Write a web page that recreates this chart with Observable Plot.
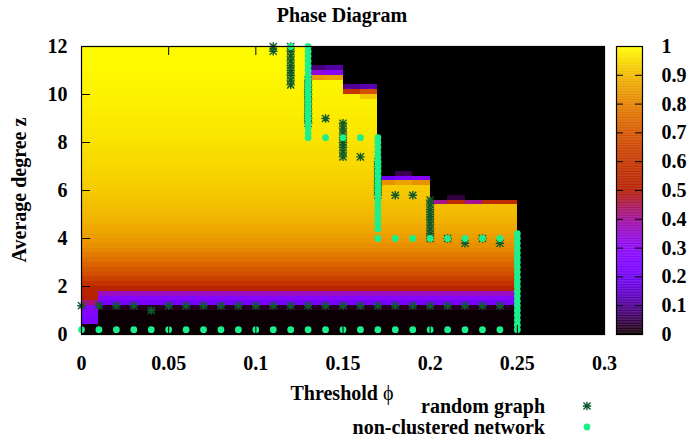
<!DOCTYPE html>
<html><head><meta charset="utf-8">
<script src="https://cdn.jsdelivr.net/npm/d3@7"></script>
<script src="https://cdn.jsdelivr.net/npm/@observablehq/plot@0.6"></script>
<style>
html,body{margin:0;padding:0;background:#fff;}
#chart{position:relative;width:690px;height:444px;overflow:hidden;}
#chart svg{position:absolute;top:0;}
</style></head><body><div id="chart"></div>
<script>
// ---- tick labels ----
const xTicks = [0, 0.05, 0.1, 0.15, 0.2, 0.25, 0.3];
const xTickLabels = ["0", "0.05", "0.1", "0.15", "0.2", "0.25", "0.3"];
const yTicks = [0, 2, 4, 6, 8, 10, 12];
const yTickLabels = ["0", "2", "4", "6", "8", "10", "12"];
const cbTicks = [0, 0.1, 0.2, 0.3, 0.4, 0.5, 0.6, 0.7, 0.8, 0.9, 1];
const cbTickLabels = ["0", "0.1", "0.2", "0.3", "0.4", "0.5", "0.6", "0.7", "0.8", "0.9", "1"];

// ---- heat map grid (cell lower edges) ----
const colStarts = [0, 0.01, 0.02, 0.03, 0.04, 0.05, 0.06, 0.07, 0.08, 0.09,
  0.10, 0.11, 0.12, 0.13, 0.14, 0.15, 0.16, 0.17, 0.18, 0.19,
  0.20, 0.21, 0.22, 0.23, 0.24, 0.25, 0.26, 0.27, 0.28, 0.29];
const rowStarts = [0, 0.2, 0.4, 0.6, 0.8, 1.0, 1.2, 1.4, 1.6, 1.8,
  2.0, 2.2, 2.4, 2.6, 2.8, 3.0, 3.2, 3.4, 3.6, 3.8,
  4.0, 4.2, 4.4, 4.6, 4.8, 5.0, 5.2, 5.4, 5.6, 5.8,
  6.0, 6.2, 6.4, 6.6, 6.8, 7.0, 7.2, 7.4, 7.6, 7.8,
  8.0, 8.2, 8.4, 8.6, 8.8, 9.0, 9.2, 9.4, 9.6, 9.8,
  10.0, 10.2, 10.4, 10.6, 10.8, 11.0, 11.2, 11.4, 11.6, 11.8];
// value of the cascade region by row (z)
const baseProfile = [0.002, 0.002, 0.002, 0.002, 0.002, 0.02, 0.22, 0.27, 0.36, 0.52,
  0.58, 0.63, 0.67, 0.70, 0.73, 0.76, 0.785, 0.805, 0.825, 0.84,
  0.855, 0.865, 0.875, 0.885, 0.893, 0.90, 0.906, 0.912, 0.918, 0.923,
  0.928, 0.932, 0.936, 0.94, 0.944, 0.948, 0.951, 0.954, 0.957, 0.96,
  0.963, 0.966, 0.968, 0.97, 0.972, 0.974, 0.976, 0.978, 0.98, 0.982,
  0.984, 0.986, 0.987, 0.988, 0.99, 0.991, 0.992, 0.993, 0.994, 0.995];
// first column (phi = 0) bottom rows
const col0Bottom = [0.002, 0.002, 0.24, 0.24, 0.27, 0.27, 0.42, 0.5, 0.52];
// first black row in each column (60 = none)
const blackFromRow = [60, 60, 60, 60, 60, 60, 60, 60, 60, 60,
  60, 60, 60, 56, 56, 52, 52, 33, 33, 33,
  28, 28, 28, 28, 28, 0, 0, 0, 0, 0];
// transition cells along the boundary
const edgeCol = [13, 13, 13, 14, 14, 14, 15, 15, 16, 16, 16, 17, 17, 18, 18, 18, 19, 19, 20, 21, 21, 22, 23, 24];
const edgeRow = [55, 54, 53, 55, 54, 53, 51, 50, 51, 50, 49, 32, 31, 33, 32, 31, 32, 31, 27, 28, 27, 27, 27, 27];
const edgeVal = [0.08, 0.33, 0.85, 0.11, 0.27, 0.86, 0.1, 0.6, 0.12, 0.68, 0.92, 0.2, 0.83, 0.05, 0.24, 0.86, 0.27, 0.83, 0.4, 0.04, 0.55, 0.4, 0.55, 0.55];

// ---- random graph points ----
const randomX = [0, 0.01, 0.02, 0.03, 0.04, 0.05, 0.06, 0.07, 0.08, 0.09, 0.10, 0.11, 0.12,
  0.13, 0.14, 0.15, 0.16, 0.17, 0.18, 0.19, 0.20, 0.21, 0.22, 0.23, 0.24,
  0.11, 0.11,
  0.12, 0.12, 0.12, 0.12, 0.12, 0.12, 0.12, 0.12, 0.12,
  0.13, 0.13, 0.13, 0.13, 0.13, 0.13, 0.13, 0.13, 0.13, 0.13,
  0.14,
  0.15, 0.15, 0.15, 0.15, 0.15, 0.15, 0.15, 0.15,
  0.16,
  0.17, 0.17, 0.17, 0.17, 0.17, 0.17, 0.17, 0.17,
  0.18, 0.19,
  0.20, 0.20, 0.20, 0.20, 0.20, 0.20, 0.20, 0.20, 0.20,
  0.21, 0.22, 0.23, 0.24];
const randomZ = [1.2, 1.2, 1.2, 1.2, 1.0, 1.2, 1.2, 1.2, 1.2, 1.2, 1.2, 1.2, 1.2,
  1.2, 1.2, 1.2, 1.2, 1.2, 1.2, 1.2, 1.2, 1.2, 1.2, 1.2, 1.2,
  12.0, 11.8,
  12.0, 11.8, 11.6, 11.4, 11.2, 11.0, 10.8, 10.6, 10.4,
  10.6, 10.4, 10.2, 10.0, 9.8, 9.6, 9.4, 9.2, 9.0, 8.8,
  9.0,
  8.8, 8.6, 8.4, 8.2, 8.0, 7.8, 7.6, 7.4,
  7.4,
  7.2, 7.0, 6.8, 6.6, 6.4, 6.2, 6.0, 5.8,
  5.8, 5.8,
  5.6, 5.4, 5.2, 5.0, 4.8, 4.6, 4.4, 4.2, 4.0,
  4.0, 3.8, 4.0, 3.8];

// ---- non-clustered network points ----
const nonclX = [0, 0.01, 0.02, 0.03, 0.04, 0.05, 0.06, 0.07, 0.08, 0.09, 0.10, 0.11, 0.12,
  0.13, 0.14, 0.15, 0.16, 0.17, 0.18, 0.19, 0.20, 0.21, 0.22, 0.23, 0.24,
  0.12,
  0.13, 0.13, 0.13, 0.13, 0.13, 0.13, 0.13, 0.13, 0.13, 0.13,
  0.13, 0.13, 0.13, 0.13, 0.13, 0.13, 0.13, 0.13, 0.13, 0.13,
  0.14, 0.15, 0.16,
  0.17, 0.17, 0.17, 0.17, 0.17, 0.17, 0.17, 0.17, 0.17, 0.17,
  0.17, 0.17, 0.17, 0.17, 0.17, 0.17, 0.17, 0.17, 0.17, 0.17, 0.17,
  0.18, 0.19, 0.20, 0.21, 0.22, 0.23, 0.24,
  0.25, 0.25, 0.25, 0.25, 0.25, 0.25, 0.25, 0.25, 0.25, 0.25, 0.25,
  0.25, 0.25, 0.25, 0.25, 0.25, 0.25, 0.25, 0.25, 0.25, 0.25];
const nonclZ = [0.2, 0.2, 0.2, 0.2, 0.2, 0.2, 0.2, 0.2, 0.2, 0.2, 0.2, 0.2, 0.2,
  0.2, 0.2, 0.2, 0.2, 0.2, 0.2, 0.2, 0.2, 0.2, 0.2, 0.2, 0.2,
  12.0,
  12.0, 11.8, 11.6, 11.4, 11.2, 11.0, 10.8, 10.6, 10.4, 10.2,
  10.0, 9.8, 9.6, 9.4, 9.2, 9.0, 8.8, 8.6, 8.4, 8.2,
  8.2, 8.2, 8.2,
  8.2, 8.0, 7.8, 7.6, 7.4, 7.2, 7.0, 6.8, 6.6, 6.4,
  6.2, 6.0, 5.8, 5.6, 5.4, 5.2, 5.0, 4.8, 4.6, 4.4, 4.0,
  4.0, 4.0, 4.0, 4.0, 4.0, 4.0, 4.0,
  4.2, 4.0, 3.8, 3.6, 3.4, 3.2, 3.0, 2.8, 2.6, 2.4, 2.2,
  2.0, 1.8, 1.6, 1.4, 1.2, 1.0, 0.8, 0.6, 0.4, 0.2];

// ---- gnuplot default pm3d palette (rgbformulae 7,5,15) ----
function gnuplotPalette(t) {
  t = Math.max(0, Math.min(1, t));
  const r = Math.sqrt(t), g = t * t * t, b = Math.max(0, Math.sin(2 * Math.PI * t));
  return `rgb(${Math.round(255 * r)},${Math.round(255 * g)},${Math.round(255 * b)})`;
}

// build cell table
const cells = [];
colStarts.forEach((x, c) => {
  rowStarts.forEach((z, r) => {
    let v = r >= blackFromRow[c] ? 0 : baseProfile[r];
    if (c === 0 && r < col0Bottom.length) v = col0Bottom[r];
    cells.push({x1: x, x2: x + 0.01, y1: z, y2: z + 0.2, v, c, r});
  });
});
edgeCol.forEach((c, i) => {
  const cell = cells.find(d => d.c === c && d.r === edgeRow[i]);
  if (cell) cell.v = edgeVal[i];
});

const randomPts = randomX.map((x, i) => ({x, z: randomZ[i]}));
const nonclPts = nonclX.map((x, i) => ({x, z: nonclZ[i]}));

const starSymbol = {
  draw(ctx, size) {
    const r = Math.sqrt(size / Math.PI);
    const d = r * 0.85;
    ctx.moveTo(-r, 0); ctx.lineTo(r, 0);
    ctx.moveTo(0, -r); ctx.lineTo(0, r);
    ctx.moveTo(-d, -d); ctx.lineTo(d, d);
    ctx.moveTo(-d, d); ctx.lineTo(d, -d);
  }
};

const FONT = "'Liberation Serif','Times New Roman',serif";
const colorScale = {type: "linear", domain: [0, 1], interpolate: gnuplotPalette};
const STAR = "#0e5a2c", DOTC = "#1cf08c";

const W = 690, H = 444, ML = 81, MR = 86, MT = 46, MB = 110;
const tickX = 9 / ((W - ML - MR) / 0.3);
const tickY = 9 / ((H - MT - MB) / 12);

const main = Plot.plot({
  width: W, height: H,
  marginLeft: ML, marginRight: MR, marginTop: MT, marginBottom: MB,
  style: {fontFamily: FONT, fontSize: "20px", fontWeight: "bold", color: "black", background: "transparent"},
  x: {domain: [0, 0.3], label: null},
  y: {domain: [0, 12], label: null},
  color: colorScale,
  marks: [
    Plot.rect(cells, {x1: "x1", x2: "x2", y1: "y1", y2: "y2", fill: "v", shapeRendering: "crispEdges"}),
    Plot.dot(randomPts, {x: "x", y: "z", symbol: starSymbol, r: 4.2, stroke: STAR, strokeWidth: 1.4, fill: "none"}),
    Plot.dot(nonclPts, {x: "x", y: "z", r: 3.4, fill: DOTC, stroke: "none"}),
    Plot.frame({stroke: "black", strokeWidth: 1.2}),
    Plot.ruleX(xTicks, {x: d => d, y1: 0, y2: tickY, stroke: "black"}),
    Plot.ruleX(xTicks, {x: d => d, y1: 12 - tickY, y2: 12, stroke: "black"}),
    Plot.ruleY(yTicks, {y: d => d, x1: 0, x2: tickX, stroke: "black"}),
    Plot.ruleY(yTicks, {y: d => d, x1: 0.3 - tickX, x2: 0.3, stroke: "black"}),
    Plot.axisX({ticks: xTicks, tickSize: 0, tickPadding: 21, tickFormat: (d, i) => xTickLabels[i], fontSize: 20}),
    Plot.axisY({ticks: yTicks, tickSize: 0, tickPadding: 14, tickFormat: (d, i) => yTickLabels[i], fontSize: 20})
  ]
});
main.style.left = "0px";
document.getElementById("chart").appendChild(main);

// colour box
const cbLeft = 606, cbML = 10, cbInner = 26, cbMR = 48;
const cbStops = d3.range(0, 1, 0.0025);
const cbTick = 7 / cbInner;
const cb = Plot.plot({
  width: cbML + cbInner + cbMR, height: H,
  marginLeft: cbML, marginRight: cbMR, marginTop: MT, marginBottom: MB,
  style: {fontFamily: FONT, fontSize: "20px", fontWeight: "bold", color: "black", background: "transparent"},
  x: {domain: [0, 1], axis: null},
  y: {domain: [0, 1], label: null},
  color: colorScale,
  marks: [
    Plot.rect(cbStops, {x1: 0, x2: 1, y1: d => d, y2: d => Math.min(1, d + 0.0035), fill: d => d + 0.00125}),
    Plot.frame({stroke: "black", strokeWidth: 1.2}),
    Plot.ruleY(cbTicks, {y: d => d, x1: 0, x2: cbTick, stroke: "black"}),
    Plot.ruleY(cbTicks, {y: d => d, x1: 1 - cbTick, x2: 1, stroke: "black"}),
    Plot.axisY({anchor: "right", ticks: cbTicks, tickSize: 0, tickPadding: 19, tickFormat: (d, i) => cbTickLabels[i], fontSize: 20})
  ]
});
cb.style.left = cbLeft + "px";
document.getElementById("chart").appendChild(cb);

// titles and key
const svg = d3.select("#chart").append("svg")
  .attr("width", W).attr("height", H)
  .style("left", "0px").style("pointer-events", "none")
  .style("font-family", FONT).style("font-weight", "bold").style("font-size", "20px");
svg.append("text").attr("x", 342).attr("y", 22).attr("text-anchor", "middle").text("Phase Diagram");
const xl = svg.append("text").attr("x", 342).attr("y", 400).attr("text-anchor", "middle");
xl.append("tspan").text("Threshold ");
xl.append("tspan").style("font-weight", "normal").text("ϕ");
svg.append("text").attr("transform", "translate(26,190) rotate(-90)").attr("text-anchor", "middle").text("Average degree z");
svg.append("text").attr("x", 545).attr("y", 413).attr("text-anchor", "end").text("random graph");
svg.append("text").attr("x", 545).attr("y", 434).attr("text-anchor", "end").text("non-clustered network");
svg.append("path").attr("transform", "translate(587,406)")
  .attr("d", d3.symbol(starSymbol, Math.PI * 4.2 * 4.2)()).attr("stroke", STAR).attr("stroke-width", 1.4).attr("fill", "none");
svg.append("circle").attr("cx", 587).attr("cy", 427).attr("r", 3.4).attr("fill", DOTC);
</script></body></html>
